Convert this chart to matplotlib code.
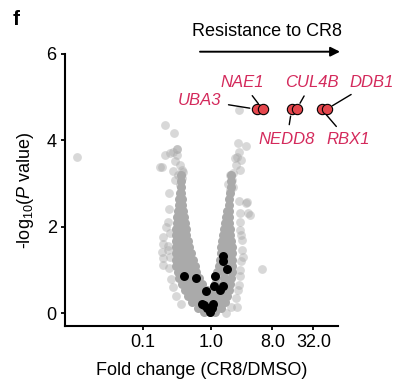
import numpy as np
import matplotlib
matplotlib.use("Agg")
import matplotlib.pyplot as plt

plt.rcParams["font.family"] = "Liberation Sans"
plt.rcParams["mathtext.fontset"] = "custom"
plt.rcParams["mathtext.rm"] = "Liberation Sans"
plt.rcParams["mathtext.it"] = "Liberation Sans:italic"

# dense body of the volcano (log2 fold change, -log10 P)
core_lfc = [-1.44, 1.00,
            -1.45, 0.98,
            -1.47, 0.96,
            -1.53, -1.44, 0.93,
            -1.55, -1.42, 0.90,
            -1.58, -1.39, 0.87,
            -1.61, -1.36, 0.80, 0.87,
            -1.64, -1.48, -1.32, 0.74, 0.86,
            -1.67, -1.47, -1.26, 0.68, 0.89,
            -1.68, -1.45, -1.22, 0.64, 0.92,
            -1.68, -1.44, -1.20, 0.61, 0.78, 0.95,
            -1.68, -1.42, -1.14, 0.55, 0.76, 0.98,
            -1.68, -1.38, -1.07, 0.50, 0.76, 1.01,
            -1.68, -1.44, -1.20, -0.97, 0.47, 0.76, 1.04,
            -1.68, -1.42, -1.15, -0.89, 0.42, 0.73, 1.05,
            -1.68, -1.39, -1.09, -0.80, 0.37, 0.71, 1.05,
            -1.62, -1.32, -1.01, -0.71, 0.30, 0.66, 1.02,
            -1.54, -1.23, -0.91, -0.60, 0.27, 0.63, 0.99,
            -1.42, -1.09, -0.77, -0.44, 0.22, 0.58, 0.95,
            -1.28, -1.01, -0.74, -0.47, -0.20, 0.07, 0.34, 0.61, 0.88,
            -1.13, -0.86, -0.59, -0.32, -0.05, 0.22, 0.49, 0.79,
            -0.93, -0.66, -0.39, -0.12, 0.15, 0.42, 0.68,
            -0.63, -0.35, -0.07, 0.20, 0.48,
            -0.32, -0.05, 0.22]
core_p = [3.20, 3.20,
          3.06, 3.06,
          2.92, 2.92,
          2.78, 2.78, 2.78,
          2.64, 2.64, 2.64,
          2.50, 2.50, 2.50,
          2.36, 2.36, 2.36, 2.36,
          2.22, 2.22, 2.22, 2.22, 2.22,
          2.08, 2.08, 2.08, 2.08, 2.08,
          1.94, 1.94, 1.94, 1.94, 1.94,
          1.80, 1.80, 1.80, 1.80, 1.80, 1.80,
          1.66, 1.66, 1.66, 1.66, 1.66, 1.66,
          1.52, 1.52, 1.52, 1.52, 1.52, 1.52,
          1.38, 1.38, 1.38, 1.38, 1.38, 1.38, 1.38,
          1.24, 1.24, 1.24, 1.24, 1.24, 1.24, 1.24,
          1.10, 1.10, 1.10, 1.10, 1.10, 1.10, 1.10,
          0.96, 0.96, 0.96, 0.96, 0.96, 0.96, 0.96,
          0.82, 0.82, 0.82, 0.82, 0.82, 0.82, 0.82,
          0.68, 0.68, 0.68, 0.68, 0.68, 0.68, 0.68,
          0.54, 0.54, 0.54, 0.54, 0.54, 0.54, 0.54, 0.54, 0.54,
          0.40, 0.40, 0.40, 0.40, 0.40, 0.40, 0.40, 0.40,
          0.26, 0.26, 0.26, 0.26, 0.26, 0.26, 0.26,
          0.12, 0.12, 0.12, 0.12, 0.12,
          0.02, 0.02, 0.02]

# scattered genes around the body
sparse_lfc = [-6.52, 2.50, 1.38, -2.24, -1.80, 1.33, 1.71, -2.24, -2.00, -1.67,
              -1.67, -1.76, 1.38, 1.28, 1.17, 1.45, -2.49, -1.51, -1.43, -1.35,
              -1.84, -1.60, 1.22, 1.09, 1.41, 0.93, -1.76, -1.43, -1.51, 1.01,
              0.84, 1.06, 0.93, -2.03, 1.71, 1.82, 1.41, -2.40, -1.84, -1.67,
              1.74, 1.90, -2.33, -2.36, -2.40, -2.33, -2.33, -2.08, 1.58, 1.41,
              1.33, 1.25, 1.50, 1.41, -2.20,
              -2.05, -2.10, -1.98, -2.10, -2.00, -2.05, -1.95, -1.85, -1.70, -1.45,
              1.35, 1.40, 1.45, 1.50, 1.45, 1.40, 1.35, 1.20, 1.00, 0.75]
sparse_p = [3.62, 1.01, 4.70, 4.35, 4.16, 3.95, 3.87, 3.66, 3.70, 3.79,
            3.66, 3.53, 3.74, 3.62, 3.58, 3.54, 3.39, 3.43, 3.31, 3.27,
            3.29, 3.20, 3.43, 3.24, 3.31, 3.20, 3.08, 3.12, 2.97, 3.08,
            3.00, 2.93, 2.85, 2.77, 2.54, 2.31, 2.31, 3.39, 3.74, 3.81,
            2.58, 2.27, 1.77, 1.61, 1.42, 1.27, 1.11, 1.46, 1.30, 1.00,
            0.53, 0.15, 1.69, 1.92, 2.00,
            2.40, 2.10, 1.85, 1.55, 1.30, 1.05, 0.80, 0.60, 0.40, 0.20,
            2.60, 2.10, 1.80, 1.45, 1.20, 0.85, 0.65, 0.35, 0.15, 0.00]

# highlighted (black) genes
black_lfc = [-1.30, -0.75, 0.20, 0.57, 0.60, 0.78, -0.26, 0.16, 0.44, 0.57,
             -0.45, -0.34, 0.08, -0.05, -0.21, 0.05]
black_p = [0.86, 0.82, 0.86, 1.32, 1.20, 1.01, 0.51, 0.62, 0.53, 0.62,
           0.22, 0.19, 0.22, 0.02, 0.11, 0.12]

# hits
genes = ["UBA3", "NAE1", "NEDD8", "CUL4B", "RBX1", "DDB1"]
hit_lfc = [2.23, 2.52, 3.94, 4.18, 5.40, 5.64]
hit_p = [4.72, 4.72, 4.72, 4.72, 4.72, 4.72]
label_lfc = [-0.54, 1.51, 3.71, 4.93, 6.68, 7.85]
label_p = [4.93, 5.35, 4.03, 5.35, 4.01, 5.35]

xticks = [0.1, 1.0, 8.0, 32.0]
xticklabels = ["0.1", "1.0", "8.0", "32.0"]
yticks = [0, 2, 4, 6]

fc = lambda v: 2.0 ** np.asarray(v)

fig = plt.figure(figsize=(4.01, 3.92), dpi=100)
ax = fig.add_axes([65 / 401, 1 - 326 / 392, 273 / 401, 272 / 392])

ax.scatter(fc(sparse_lfc), sparse_p, s=40, color="#a9a9a9", alpha=0.45,
           linewidths=0, zorder=1)
ax.scatter(fc(core_lfc), core_p, s=42, color="#aaaaaa", linewidths=0, zorder=2)
ax.scatter(fc(black_lfc), black_p, s=42, color="black", linewidths=0, zorder=3)
ax.scatter(fc(hit_lfc), hit_p, s=55, color="#e4474d", edgecolors="black",
           linewidths=0.8, zorder=4)

for g, hx, hy, tx, ty in zip(genes, hit_lfc, hit_p, label_lfc, label_p):
    ax.annotate(g, xy=(2.0 ** hx, hy), xytext=(2.0 ** tx, ty),
                ha="center", va="center", fontsize=12, fontstyle="italic",
                color="#d42a5c", annotation_clip=False,
                arrowprops=dict(arrowstyle="-", color="black", lw=1.0,
                                shrinkA=3, shrinkB=5))

ax.set_xscale("log", base=2)
ax.set_xlim(2 ** -7.12, 2 ** 6.2)
ax.set_ylim(-0.3, 6)
ax.set_xticks(xticks)
ax.set_xticklabels(xticklabels)
ax.minorticks_off()
ax.set_yticks(yticks)

for s in ["top", "right"]:
    ax.spines[s].set_visible(False)
for s in ["left", "bottom"]:
    ax.spines[s].set_linewidth(1.5)
ax.tick_params(width=1.3, length=3, labelsize=13, pad=3)

ax.set_xlabel("Fold change (CR8/DMSO)", fontsize=13, labelpad=8)
ax.set_ylabel("-log$_{10}$($P$ value)", fontsize=13)
ax.yaxis.set_label_coords(-0.105, 0.5)

fig.text(13 / 401, 1 - 25 / 392, "f", fontsize=15, fontweight="bold")
fig.text(267 / 401, 1 - 32 / 392, "Resistance to CR8", fontsize=13,
         ha="center", va="center")
ax.annotate("", xy=(340 / 401, 1 - 51.7 / 392), xytext=(200 / 401, 1 - 51.7 / 392),
            xycoords="figure fraction", textcoords="figure fraction",
            arrowprops=dict(arrowstyle="-|>", color="black", lw=1.4,
                            mutation_scale=14, shrinkA=0, shrinkB=0))

fig.savefig("out.png", dpi=100)
